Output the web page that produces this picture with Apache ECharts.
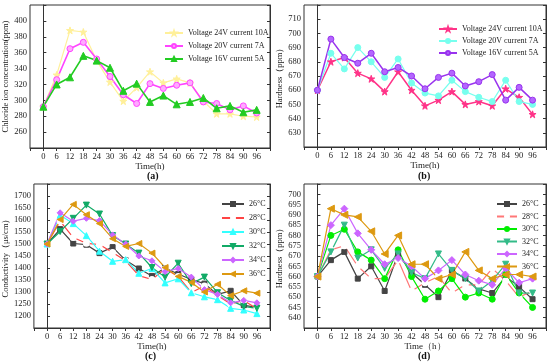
<!DOCTYPE html>
<html><head><meta charset="utf-8">
<script src="https://cdn.jsdelivr.net/npm/echarts@6/dist/echarts.min.js"></script>
<style>html,body{margin:0;padding:0;background:#fff}#c{width:550px;height:364px}</style>
</head><body><div id="c"></div>
<script>
var times = [0,6,12,18,24,30,36,42,48,54,60,66,72,78,84,90,96];

// (a) Chloride ion concentration (ppm)
var aNames = ['Voltage 24V current 10A','Voltage 20V current 7A','Voltage 16V current 5A'];
var a24 = [292,332,388,386,350,323,299,316,336,322,327,322,299,283,283,280,279];
var a20 = [292,326,365,373,352,330,307,296,321,315,319,322,298,296,288,293,284];
var a16 = [292,320,329,356,350,341,312,321,298,306,295,298,303,290,293,285,288];

// (b) Hardness (ppm) vs voltage
var b24 = [660,680,683,672,668,659,673,660,649,653,659,650,652,649,661,655,643];
var b20 = [660,686,675,690,680,669,682,665,658,656,667,659,655,652,667,652,650];
var b16 = [660,696,683,679,686,673,676,670,661,669,672,663,666,671,653,662,653];

// (c) Conductivity vs temperature
var tNames = ['26°C','28°C','30°C','32°C','34°C','36°C'];
var c26 = [1500,1562,1502,1497,1462,1487,1432,1398,1367,1400,1375,1352,1335,1290,1305,1245,1235];
var c28 = [1500,1595,1527,1503,1498,1465,1430,1368,1352,1397,1365,1298,1325,1285,1250,1265,1230];
var c30 = [1500,1620,1585,1535,1470,1428,1435,1378,1398,1338,1355,1297,1280,1268,1232,1225,1210];
var c32 = [1500,1552,1607,1662,1625,1535,1500,1462,1402,1362,1420,1335,1362,1297,1265,1240,1232];
var c34 = [1500,1630,1595,1607,1598,1538,1500,1450,1430,1385,1398,1362,1310,1290,1255,1265,1255];
var c36 = [1500,1602,1665,1622,1585,1522,1490,1502,1462,1402,1365,1340,1300,1332,1285,1305,1295];

// (d) Hardness vs temperature
var d26 = [660,668,672,659,665,653,671,662,656,650,663,659,654,652,660,655,649];
var d28 = [660,673,675,665,659,659,668,653,657,660,652,656,656,664,658,650,653];
var d30 = [660,680,683,672,668,659,673,660,649,653,659,650,652,649,661,652,645];
var d32 = [660,672,685,669,673,664,671,662,659,671,663,659,653,658,666,652,652];
var d34 = [660,685,693,681,673,666,669,665,659,663,668,661,658,656,664,657,659];
var d36 = [660,693,690,689,682,671,680,666,666,659,661,672,663,659,661,661,660];

var FONT = 'Liberation Serif';
var STAR = 'path://M5,0 L6.2,3.6 L10,3.6 L6.9,5.8 L8.1,9.5 L5,7.2 L1.9,9.5 L3.1,5.8 L0,3.6 L3.8,3.6 Z';
var DOWN = 'path://M0,0 L10,0 L5,9 Z';
var LEFT = 'path://M9,0 L9,10 L0,5 Z';

function pts(arr){ return arr.map(function(v,i){ return [times[i], v]; }); }

var grids = [
  {left:30, top:5, width:240, height:143},
  {left:304, top:5, width:242, height:142},
  {left:30, top:184, width:240, height:144},
  {left:304, top:184, width:242, height:144}
];
grids.forEach(function(g){ g.show = true; g.borderColor = '#333'; g.borderWidth = 1; g.backgroundColor='transparent'; });

var xNames = ['Time(h)','Time(h)','Time(h)','Time\uFF08h\uFF09'];
var xAxes = grids.map(function(g,i){
  return {type:'value', gridIndex:i, min:-6, max:102, interval:6,
    name:xNames[i], nameLocation:'middle', nameGap:14,
    nameTextStyle:{fontFamily:FONT, fontSize:9, color:'#222'},
    axisLine:{lineStyle:{color:'#333'}},
    axisTick:{show:true, inside:false, length:3, lineStyle:{color:'#333'}},
    axisLabel:{fontFamily:FONT, fontSize:8.5, color:'#222', margin:4,
      formatter:function(v){ return (v<0||v>96)?'':String(v); }},
    splitLine:{show:false}};
});

var yCfg = [
  {min:240,max:420,interval:20,lo:260,hi:400,name:'Chloride ion concentration(ppm)',gap:20},
  {min:620,max:720,interval:10,lo:630,hi:710,name:'Hardness\uFF08ppm\uFF09',gap:20},
  {min:1150,max:1750,interval:50,lo:1200,hi:1700,name:'Conductivity\uFF08\u03BCs/cm\uFF09',gap:22},
  {min:635,max:705,interval:5,lo:640,hi:700,name:'Hardness\uFF08ppm\uFF09',gap:20}
];
var yAxes = [];
yCfg.forEach(function(c,i){
  yAxes.push({type:'value', gridIndex:i, min:c.min, max:c.max, interval:c.interval,
    name:c.name, nameLocation:'middle', nameGap:c.gap,
    nameTextStyle:{fontFamily:FONT, fontSize:8.5, color:'#222'},
    axisLine:{show:true, lineStyle:{color:'#333'}},
    axisTick:{show:true, inside:true, length:3, lineStyle:{color:'#333'}},
    axisLabel:{fontFamily:FONT, fontSize:8.5, color:'#222', margin:3,
      formatter:(function(lo,hi){return function(v){ return (v<lo||v>hi)?'':String(v); };})(c.lo,c.hi)},
    splitLine:{show:false}});
  yAxes.push({type:'value', gridIndex:i, position:'right', min:c.min, max:c.max, interval:c.interval,
    axisLine:{show:true, lineStyle:{color:'#333'}},
    axisTick:{show:true, inside:true, length:3, lineStyle:{color:'#333'}},
    axisLabel:{show:false}, splitLine:{show:false}});
});

var PANEL = ['a','b','c','d'];
function ser(name, data, g, color, symbol, fill, size, lw){
  return {type:'line', name:PANEL[g]+'|'+name, data:pts(data), xAxisIndex:g, yAxisIndex:g*2,
    symbol:symbol, symbolSize:size||6, showSymbol:true,
    lineStyle:{color:color, width:lw||1.3},
    itemStyle:{color:fill||color, borderColor:color, borderWidth:1},
    emphasis:{disabled:true}, animation:false};
}

var series = [
  ser(aNames[0], a24, 0, '#fff09a', STAR, '#fff09a', 7, 1.2),
  ser(aNames[1], a20, 0, '#ff44ff', 'circle', '#ffaaff', 6, 1.6),
  ser(aNames[2], a16, 0, '#22cc22', 'triangle', '#22cc22', 7, 1.6),

  ser(aNames[0], b24, 1, '#ff3388', STAR, '#ff3388', 7, 1.5),
  ser(aNames[1], b20, 1, '#77ffee', 'circle', '#77ffee', 6, 1.2),
  ser(aNames[2], b16, 1, '#9933ee', 'circle', '#b366ff', 6, 1.5),

  ser(tNames[0], c26, 2, '#444444', 'rect', '#444444', 5, 1.2),
  ser(tNames[1], c28, 2, '#ff4444', 'emptyCircle', '#ffffff', 5, 1.2),
  ser(tNames[2], c30, 2, '#33ffff', 'triangle', '#33ffff', 6, 1.2),
  ser(tNames[3], c32, 2, '#11aa66', DOWN, '#11aa66', 6, 1.2),
  ser(tNames[4], c34, 2, '#cc66ff', 'diamond', '#cc66ff', 6, 1.2),
  ser(tNames[5], c36, 2, '#dd9911', LEFT, '#dd9911', 6, 1.2),

  ser(tNames[0], d26, 3, '#444444', 'rect', '#444444', 5, 1.2),
  ser(tNames[1], d28, 3, '#ff7777', 'emptyCircle', '#ffffff', 5, 1.2),
  ser(tNames[2], d30, 3, '#00ee00', 'circle', '#00ee00', 6, 1.2),
  ser(tNames[3], d32, 3, '#33bb88', DOWN, '#33bb88', 6, 1.2),
  ser(tNames[4], d34, 3, '#cc66ff', 'diamond', '#cc66ff', 7, 1.2),
  ser(tNames[5], d36, 3, '#dd9911', LEFT, '#dd9911', 7, 1.2)
];

function leg(g, left, top, names, gap, iw){
  return {orient:'vertical', left:left, top:top, itemWidth:iw, itemHeight:5, itemGap:gap,
    textStyle:{fontFamily:FONT, fontSize:8, color:'#222'},
    data:names.map(function(n){ return PANEL[g]+'|'+n; }),
    formatter:function(n){ return n.split('|')[1]; },
    selectedMode:false};
}
var legends = [
  leg(0, 159, 24, aNames, 5, 18),
  leg(1, 433, 20, aNames, 4, 18),
  leg(2, 216, 195, tNames, 6, 22),
  leg(3, 491, 195, tNames, 4.5, 20)
];

var titles = [
  {text:'(a)', left:142, top:166},
  {text:'(b)', left:413, top:166},
  {text:'(c)', left:140, top:346},
  {text:'(d)', left:413, top:346}
].map(function(t){ t.textStyle={fontFamily:FONT, fontSize:10, fontWeight:'bold', color:'#111'}; return t; });

var chart = echarts.init(document.getElementById('c'), null, {renderer:'canvas'});
chart.setOption({
  backgroundColor:'#fff', animation:false,
  title: titles,
  legend: legends,
  grid: grids, xAxis: xAxes, yAxis: yAxes, series: series
});
</script></body></html>
